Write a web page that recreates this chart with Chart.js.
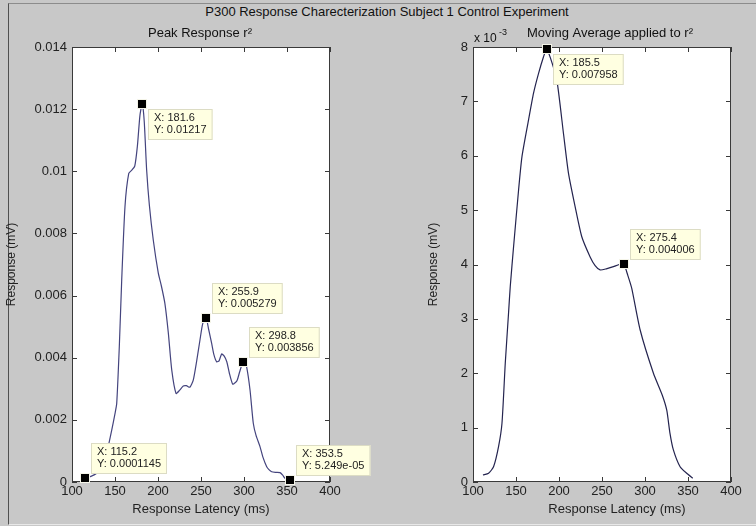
<!DOCTYPE html>
<html>
<head>
<meta charset="utf-8">
<script src="https://cdn.jsdelivr.net/npm/chart.js@4.4.0/dist/chart.umd.min.js"></script>
<style>
  body { margin: 0; background: #c8c8c8; width: 756px; height: 526px; overflow: hidden; position: relative;
         font-family: Arial, "Liberation Sans", sans-serif; }
  #frame { position: absolute; left: 8px; top: 3px; right: 0; bottom: 1px;
           border-left: 1px solid #505050; border-top: 1px solid #8c8c8c; border-bottom: 1px solid #e8e8e8; }
  #main { position: absolute; top: 4px; left: 0; width: 774px; text-align: center; font-size: 13px; color: #111; }
  canvas { position: absolute; top: 0; }
</style>
</head>
<body>
<div id="frame"></div>
<div id="main">P300 Response Charecterization Subject 1 Control Experiment</div>
<canvas id="left" width="378" height="526" style="left:0"></canvas>
<canvas id="right" width="378" height="526" style="left:378px"></canvas>
<script>
// peak response r^2 (left)
const peakX = [115.2, 122, 128.7, 135, 140.3, 146.2, 150, 152, 155, 157.8, 161.6, 166, 170, 173, 176, 179, 181.6,
  184, 186.8, 190, 194.5, 200.3, 204, 208, 212, 216, 221, 225, 229.4, 233, 237, 241, 245, 248.8, 252, 255.9,
  259, 262.4, 265, 268.2, 271, 274, 277, 280, 283, 286.8, 290, 292.2, 295, 298.8, 301, 303, 307, 310.8, 314,
  318.6, 322, 326.4, 329, 332.2, 337, 341.9, 345, 347.7, 353.5];
const peakY = [0.000115, 0.00018, 0.00028, 0.0005, 0.00092, 0.00167, 0.0022, 0.00253, 0.00435, 0.0065, 0.00886,
  0.00993, 0.01005, 0.01017, 0.0108, 0.0118, 0.01217, 0.0116, 0.01004, 0.0089, 0.00779, 0.00673, 0.0063, 0.00575,
  0.0048, 0.0036, 0.00285, 0.00295, 0.00309, 0.0031, 0.00305, 0.00328, 0.0039, 0.00457, 0.0051, 0.00528, 0.0049,
  0.00446, 0.0041, 0.00387, 0.0039, 0.00412, 0.00405, 0.00387, 0.0035, 0.00315, 0.0032, 0.00328, 0.00355,
  0.003856, 0.0038, 0.00371, 0.00296, 0.00189, 0.0015, 0.00114, 0.0008, 0.00049, 0.0004, 0.00033, 0.00031,
  0.0003, 0.00022, 0.00012, 0.0000525];

// moving average (right)
const avgX = [111.6, 118.1, 123.9, 129.7, 133.7, 137.5, 141.3, 143.3, 147.2, 153, 156.9, 164.6, 170.4, 176, 182,
  185.5, 190, 197.5, 205.2, 211, 218.8, 226.5, 236.2, 242, 247.8, 255, 263.3, 270, 275.4, 280, 284.6, 294.3,
  309.8, 320, 325.3, 329, 333, 340.8, 348.5, 355.5];
const avgY = [0.00013, 0.00016, 0.00028, 0.00065, 0.00108, 0.00218, 0.0031, 0.00359, 0.00433, 0.00537, 0.00598,
  0.00666, 0.00715, 0.0075, 0.00782, 0.007958, 0.0078, 0.00739, 0.00641, 0.00568, 0.00506, 0.00451, 0.00414,
  0.00398, 0.0039, 0.00392, 0.00396, 0.004, 0.004006, 0.0038, 0.00356, 0.0028, 0.002, 0.0016, 0.00132, 0.0009,
  0.00059, 0.00028, 0.00016, 0.00007];

// data tips
const peakTipX = [115.2, 181.6, 255.9, 298.8, 353.5];
const peakTipY = [0.0001145, 0.01217, 0.005279, 0.003856, 0.00005249];
const peakTipSide = ['above', 'below', 'above', 'above', 'above'];
const avgTipX = [185.5, 275.4];
const avgTipY = [0.007958, 0.004006];
const avgTipSide = ['below', 'above'];

const xTicks = { min: 100, max: 400, step: 50 };
const font = 'Arial, "Liberation Sans", sans-serif';

// matlab-ish %g with 4 significant digits
function fmtG(v) {
  if (v !== 0 && Math.abs(v) < 1e-4) {
    const [m, e] = v.toExponential(3).split('e');
    const n = parseInt(e, 10);
    return m + 'e' + (n < 0 ? '-' : '+') + String(Math.abs(n)).padStart(2, '0');
  }
  return String(parseFloat(v.toPrecision(4)));
}

const axesBox = {
  id: 'axesBox',
  beforeDraw(chart) {
    const { ctx, chartArea: a } = chart;
    ctx.save();
    ctx.fillStyle = '#ffffff';
    ctx.fillRect(a.left, a.top, a.width, a.height);
    ctx.restore();
  },
  afterDraw(chart) {
    const o = chart.options.plugins.axesBox;
    const { ctx, chartArea: a, scales: { x, y } } = chart;
    ctx.save();
    ctx.strokeStyle = '#3a3a3a';
    ctx.lineWidth = 1;
    ctx.strokeRect(Math.round(a.left) + 0.5, Math.round(a.top) + 0.5, Math.round(a.width) - 1, Math.round(a.height) - 1);
    ctx.beginPath();
    x.ticks.forEach(t => {
      const px = Math.round(x.getPixelForValue(t.value)) + 0.5;
      ctx.moveTo(px, a.bottom); ctx.lineTo(px, a.bottom - 5);
      ctx.moveTo(px, a.top); ctx.lineTo(px, a.top + 5);
    });
    y.ticks.forEach(t => {
      const py = Math.round(y.getPixelForValue(t.value)) + 0.5;
      ctx.moveTo(a.left, py); ctx.lineTo(a.left + 5, py);
      ctx.moveTo(a.right, py); ctx.lineTo(a.right - 5, py);
    });
    ctx.stroke();

    // subplot title + x label
    ctx.fillStyle = '#111';
    ctx.font = '13px ' + font;
    ctx.textAlign = 'center';
    ctx.textBaseline = 'middle';
    ctx.fillText(o.title, o.titleX, 33);
    ctx.fillStyle = '#222';
    ctx.fillText('Response Latency (ms)', o.xTitleX, 509);

    if (o.exponent) {
      ctx.fillStyle = '#111';
      ctx.font = '12px ' + font;
      ctx.textAlign = 'left';
      ctx.fillText('x 10', a.left + 1, 39);
      ctx.font = '9px ' + font;
      ctx.fillText(o.exponent, a.left + 26, 33);
    }

    // data tips
    ctx.font = '11px ' + font;
    ctx.textBaseline = 'middle';
    o.tipX.forEach((tx, i) => {
      const px = x.getPixelForValue(tx);
      const py = y.getPixelForValue(o.tipY[i]);
      const l1 = 'X: ' + fmtG(tx);
      const l2 = 'Y: ' + fmtG(o.tipY[i]);
      const w = Math.max(ctx.measureText(l1).width, ctx.measureText(l2).width) + 12;
      const h = 31;
      const bx = Math.round(px + 6);
      const by = Math.round(o.tipSide[i] === 'below' ? py + 5 : py - 4 - h);
      ctx.fillStyle = '#ffffe1';
      ctx.fillRect(bx, by, w, h);
      ctx.strokeStyle = '#dcdcc4';
      ctx.strokeRect(bx + 0.5, by + 0.5, w - 1, h - 1);
      ctx.fillStyle = '#222';
      ctx.textAlign = 'left';
      ctx.fillText(l1, bx + 6, by + 9);
      ctx.fillText(l2, bx + 6, by + 21);
      ctx.fillStyle = '#000';
      ctx.fillRect(Math.round(px) - 4, Math.round(py) - 4, 8, 8);
      ctx.strokeStyle = '#f4f4e8';
      ctx.strokeRect(Math.round(px) - 4.5, Math.round(py) - 4.5, 9, 9);
    });
    ctx.restore();
  }
};

function makeChart(id, xs, ys, color, cfg) {
  return new Chart(document.getElementById(id), {
    type: 'scatter',
    data: {
      datasets: [{
        data: xs.map((x, i) => ({ x, y: ys[i] })),
        showLine: true,
        borderColor: color,
        borderWidth: 1.2,
        pointRadius: 0,
        tension: 0.2
      }]
    },
    options: {
      responsive: false,
      animation: false,
      devicePixelRatio: 1,
      layout: { padding: { left: 0, right: cfg.padRight, top: 47, bottom: 0 } },
      plugins: {
        legend: { display: false },
        tooltip: { enabled: false },
        axesBox: cfg.box
      },
      scales: {
        x: {
          type: 'linear', min: xTicks.min, max: xTicks.max,
          ticks: { stepSize: xTicks.step, padding: 2, color: '#222', font: { family: font, size: 13 } },
          grid: { display: false, drawTicks: false },
          border: { display: false },
          afterFit(s) { s.height = 44; }
        },
        y: {
          type: 'linear', min: 0, max: cfg.yMax,
          ticks: { stepSize: cfg.yStep, padding: 5, color: '#222', font: { family: font, size: 13 },
                   callback: cfg.yFmt },
          grid: { display: false, drawTicks: false },
          border: { display: false },
          title: { display: true, text: 'Response (mV)', color: '#222',
                   font: { family: font, size: 12 }, padding: { top: cfg.yTitlePad } },
          afterFit(s) { s.width = cfg.yWidth; }
        }
      }
    },
    plugins: [axesBox]
  });
}

makeChart('left', peakX, peakY, '#44447e', {
  padRight: 48, yMax: 0.014, yStep: 0.002, yWidth: 72, yTitlePad: 4,
  yFmt: v => String(parseFloat(v.toFixed(3))),
  box: { title: 'Peak Response r\u00b2', titleX: 200, xTitleX: 201,
         tipX: peakTipX, tipY: peakTipY, tipSide: peakTipSide }
});

makeChart('right', avgX, avgY, '#24244f', {
  padRight: 25, yMax: 0.008, yStep: 0.001, yWidth: 95, yTitlePad: 48,
  yFmt: v => String(Math.round(v * 1000)),
  box: { title: 'Moving Average applied to r\u00b2', titleX: 232, xTitleX: 239, exponent: '-3',
         tipX: avgTipX, tipY: avgTipY, tipSide: avgTipSide }
});
</script>
</body>
</html>
